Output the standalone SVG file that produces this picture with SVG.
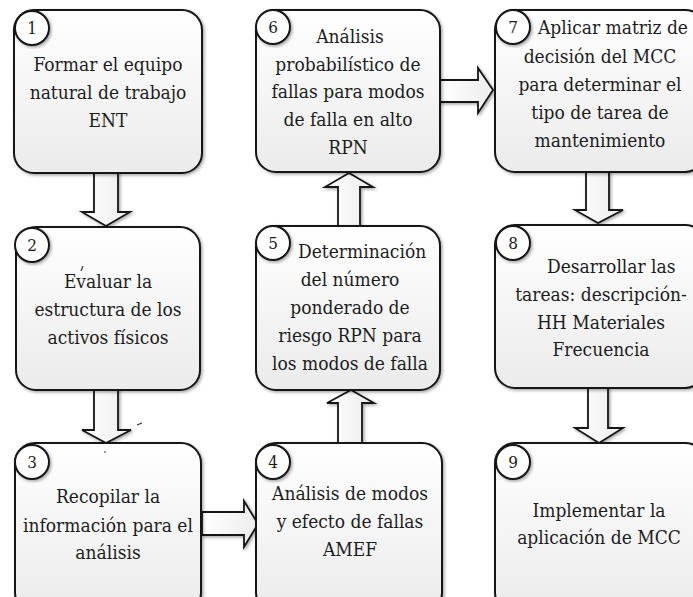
<svg xmlns="http://www.w3.org/2000/svg" width="693" height="597" viewBox="0 0 693 597">
<defs>
<linearGradient id="boxg" x1="0" y1="0" x2="0" y2="1">
<stop offset="0" stop-color="#ffffff"/>
<stop offset="1" stop-color="#ebebeb"/>
</linearGradient>
<linearGradient id="arrg" x1="0" y1="0" x2="1" y2="0">
<stop offset="0" stop-color="#ffffff"/>
<stop offset="1" stop-color="#ececec"/>
</linearGradient>
<filter id="sh" x="-10%" y="-10%" width="120%" height="120%">
<feDropShadow dx="1.5" dy="1.5" stdDeviation="1.5" flood-color="#000" flood-opacity="0.35"/>
</filter>
</defs>
<style>
.box{fill:url(#boxg);stroke:#141414;stroke-width:2;filter:url(#sh)}
.num{fill:#ffffff;stroke:#141414;stroke-width:2;filter:url(#sh)}
.arr{fill:url(#arrg);stroke:#141414;stroke-width:1.8;stroke-linejoin:miter;filter:url(#sh)}
text{fill:#1c1c1c;font-family:"DejaVu Serif",serif;font-stretch:condensed}
.t{font-size:19px;text-anchor:middle}
.ts{font-size:19px;text-anchor:start}
.n{font-size:17px;text-anchor:middle}
.mark{stroke:#333;stroke-width:1.2;fill:none}
</style>
<rect width="693" height="597" fill="#ffffff"/>

<g id="connectors">
<polygon class="arr" points="94,173 118,173 118,212 130,212 106,226 82,212 94,212"/>
<polygon class="arr" points="94,390 118,390 118,430 131,430 106,443 82,430 94,430"/>
<polygon class="arr" points="202,512 244,512 244,501 258,524 244,547 244,535 202,535"/>
<polygon class="arr" points="338,443 338,403 327,403 351,390 374,403 362,403 362,443"/>
<polygon class="arr" points="338,226 338,187 325,187 349,173 373,187 360,187 360,226"/>
<polygon class="arr" points="440,80 478,80 478,68 493,90 478,113 478,102 440,102"/>
<polygon class="arr" points="586,172 609,172 609,210 623,210 598,223 575,210 586,210"/>
<polygon class="arr" points="588,388 608,388 608,428 623,428 599,443 575,428 588,428"/>
</g>

<g id="node1">
<rect class="box" x="14" y="10" width="188" height="163" rx="20"/>
<circle class="num" cx="32" cy="28" r="17"/>
<text class="n" x="32" y="34">1</text>
<text class="t" x="108" y="71">Formar el equipo</text>
<text class="t" x="108" y="99">natural de trabajo</text>
<text class="t" x="108" y="127">ENT</text>
</g>

<g id="node2">
<rect class="box" x="16" y="227" width="184" height="163" rx="20"/>
<circle class="num" cx="32" cy="245" r="17"/>
<text class="n" x="32" y="251">2</text>
<text class="t" x="108" y="288">Evaluar la</text>
<path class="mark" d="M81,271 L83,266"/>
<text class="t" x="108" y="316">estructura de los</text>
<text class="t" x="108" y="344">activos físicos</text>
</g>

<g id="node3">
<rect class="box" x="15" y="443" width="186" height="170" rx="20"/>
<circle class="num" cx="32" cy="462" r="17"/>
<text class="n" x="32" y="468">3</text>
<text class="t" x="108" y="503">Recopilar la</text>
<text class="t" x="108" y="532">información para el</text>
<text class="t" x="108" y="559">análisis</text>
<path class="mark" d="M137,425 L142,423"/>
<path class="mark" d="M104,452 L106,452"/>
</g>

<g id="node4">
<rect class="box" x="256" y="443" width="186" height="170" rx="20"/>
<circle class="num" cx="273" cy="462" r="17"/>
<text class="n" x="273" y="468">4</text>
<text class="t" x="350" y="500">Análisis de modos</text>
<text class="t" x="350" y="528">y efecto de fallas</text>
<text class="t" x="350" y="556">AMEF</text>
</g>

<g id="node5">
<rect class="box" x="256" y="226" width="184" height="164" rx="20"/>
<circle class="num" cx="273" cy="243" r="17"/>
<text class="n" x="273" y="249">5</text>
<text class="ts" x="298" y="258">Determinación</text>
<text class="t" x="350" y="286">del número</text>
<text class="t" x="350" y="314">ponderado de</text>
<text class="t" x="350" y="342">riesgo RPN para</text>
<text class="t" x="350" y="370">los modos de falla</text>
</g>

<g id="node6">
<rect class="box" x="256" y="10" width="184" height="162" rx="20"/>
<circle class="num" cx="273" cy="27" r="17"/>
<text class="n" x="273" y="33">6</text>
<text class="t" x="350" y="43">Análisis</text>
<text class="t" x="348" y="71">probabilístico de</text>
<text class="t" x="348" y="98">fallas para modos</text>
<text class="t" x="348" y="126">de falla en alto</text>
<text class="t" x="348" y="154">RPN</text>
</g>

<g id="node7">
<rect class="box" x="495" y="10" width="210" height="162" rx="20"/>
<circle class="num" cx="513" cy="27" r="17"/>
<text class="n" x="513" y="33">7</text>
<text class="ts" x="538" y="34">Aplicar matriz de</text>
<text class="t" x="600" y="63">decisión del MCC</text>
<text class="t" x="600" y="91">para determinar el</text>
<text class="t" x="600" y="119">tipo de tarea de</text>
<text class="t" x="600" y="147">mantenimiento</text>
</g>

<g id="node8">
<rect class="box" x="495" y="225" width="210" height="163" rx="20"/>
<circle class="num" cx="513" cy="243" r="17"/>
<text class="n" x="513" y="249">8</text>
<text class="ts" x="547" y="273">Desarrollar las</text>
<text class="t" x="601" y="301">tareas: descripción-</text>
<text class="t" x="601" y="329">HH Materiales</text>
<text class="t" x="601" y="356">Frecuencia</text>
</g>

<g id="node9">
<rect class="box" x="495" y="443" width="210" height="170" rx="20"/>
<circle class="num" cx="513" cy="462" r="17"/>
<text class="n" x="513" y="468">9</text>
<text class="t" x="599" y="517">Implementar la</text>
<text class="t" x="599" y="544">aplicación de MCC</text>
</g>
</svg>
